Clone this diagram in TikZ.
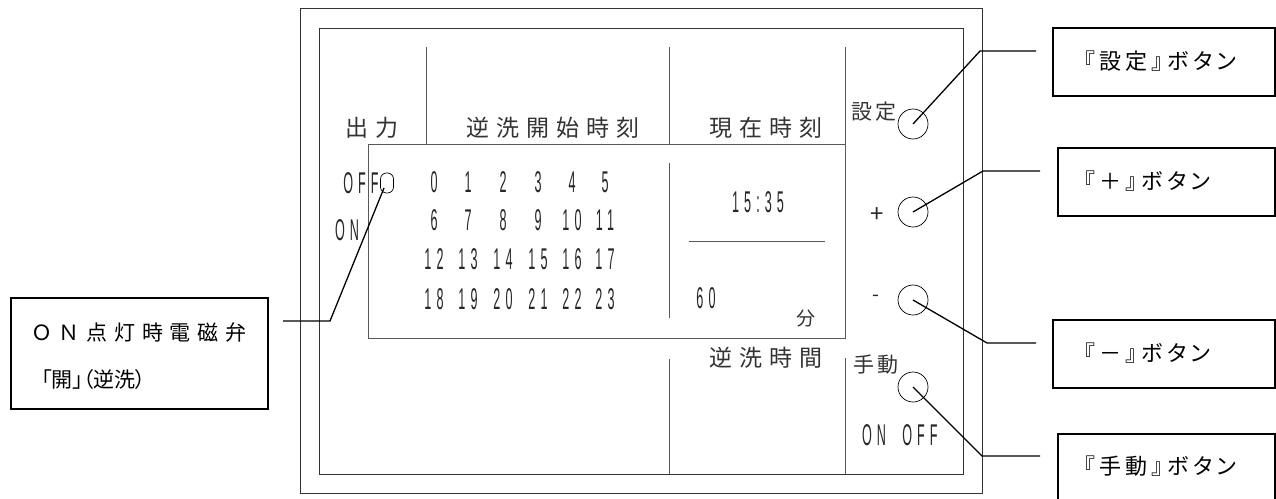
\documentclass[tikz,border=0pt]{standalone}
\usepackage{fontspec}
\usepackage{graphicx}
\newfontfamily\jp{Noto Sans CJK JP}
\newfontfamily\jpw[LetterSpace=30]{Noto Sans CJK JP}
\newfontfamily\jpb[LetterSpace=12]{Noto Sans CJK JP}
\newfontfamily\jpc[RawFeature=+palt,LetterSpace=20]{Noto Sans CJK JP}
\newfontfamily\jpl[LetterSpace=32]{Noto Sans CJK JP}
\newfontfamily\jpp[RawFeature=+palt]{Noto Sans CJK JP}
\newfontfamily\digf[LetterSpace=40]{Liberation Sans}
\newcommand{\nd}[1]{\scalebox{0.42}[1]{\fontsize{30}{30}\digf #1}}
\begin{document}
\begin{tikzpicture}[x=1pt,y=-1pt,
  frame/.style={draw=black!80, line width=0.9pt},
  divline/.style={draw=black!65, line width=0.9pt},
  lbl/.style={inner sep=0, text=black!80, font=\fontsize{23}{23}\jpw},
  lbls/.style={inner sep=0, text=black!80, font=\fontsize{21}{21}\jpb},
  num/.style={inner sep=0, text=black!85},
  btn/.style={draw, circle, minimum size=30pt, inner sep=0, line width=0.7pt},
  callout/.style={draw, line width=1.6pt, inner sep=0, anchor=north west},
  ctext/.style={inner sep=0, anchor=west, font=\fontsize{22}{22}\jpc},
  lead/.style={line width=1.3pt}]
\useasboundingbox (0,0) rectangle (1276,498);
% panel frames
\draw[frame] (300,8) rectangle (982,493);
\draw[frame] (319,28) rectangle (963,474);
% dividers
\draw[divline] (426,47) -- (426,144);
\draw[divline] (669,47) -- (669,144);
\draw[divline] (669,163) -- (669,318);
\draw[divline] (669,359) -- (669,474);
\draw[divline] (845,47) -- (845,338);
\draw[divline] (845,358) -- (845,474);
\draw[divline] (368,144) rectangle (845,338);
\draw[divline] (689,241) -- (825,241);
% headings
\node[lbl] (hout) at (372,128) {出力};
\node[lbl] (hstart) at (553,128) {逆洗開始時刻};
\node[lbl] (hnow) at (766,128) {現在時刻};
\node[lbl] (hdur) at (766,358) {逆洗時間};
\node[lbls] (hset) at (874,112) {設定};
\node[lbls] (hman) at (876,365) {手動};
% output switch
\node[num] (toff) at (361,183) {\nd{OFF}};
\node[num] (ton) at (347,230) {\nd{ON}};
\node[draw, rounded corners=6pt, minimum width=13pt, minimum height=20pt, inner sep=0, line width=0.7pt] (boff) at (387,183) {};
% hour grid
\foreach \r/\y in {0/182,1/220,2/259,3/299}{
  \foreach \c/\x in {0/434,1/468,2/503,3/538,4/572,5/605}{
    \pgfmathtruncatemacro\n{\r*6+\c}
    \node[num] (h\n) at (\x,\y) {\nd{\n}};
  }
}
% clock
\node[num] (clk) at (758,202) {\nd{15:35}};
\node[num] (dur) at (706,298) {\nd{60}};
\node[inner sep=0, text=black!80, font=\fontsize{19}{19}\jp] (umin) at (806,318) {分};
% buttons
\node[num, font=\fontsize{24}{24}\jp] (tplus) at (877,215) {+};
\node[num, font=\fontsize{20}{20}\jp] (tminus) at (876,298) {-};
\node[num] (tman on) at (874,435) {\nd{ON}};
\node[num] (tman off) at (920,435) {\nd{OFF}};
\node[btn] (bset) at (913,124) {};
\node[btn] (bplus) at (913,212) {};
\node[btn] (bminus) at (913,300) {};
\node[btn] (bman) at (913,387) {};
% callout boxes
\node[callout, minimum width=222pt, minimum height=68pt] (cset) at (1052,27) {};
\node[ctext] (cset t) at (1084,61) {『設定』ボタン};
\node[callout, minimum width=217pt, minimum height=68pt] (cplus) at (1057,147) {};
\node[ctext] (cplus t) at (1084,181) {『＋』ボタン};
\node[callout, minimum width=222pt, minimum height=68pt] (cminus) at (1052,319) {};
\node[ctext] (cminus t) at (1084,353) {『－』ボタン};
\node[callout, minimum width=217pt, minimum height=80pt] (cman) at (1057,433) {};
\node[ctext] (cman t) at (1084,466) {『手動』ボタン};
\node[callout, minimum width=257pt, minimum height=111pt] (cout) at (10,297) {};
\node[inner sep=0, anchor=west, font=\fontsize{21}{21}\jpl] (cout t1) at (31,332) {ＯＮ点灯時電磁弁};
\node[inner sep=0, anchor=west, font=\fontsize{21}{21}\jpp] (cout t2) at (41,380) {「開」（逆洗）};
% leaders
\coordinate (kset) at (980,51);   \coordinate (eset) at (1036,51);
\coordinate (kplus) at (983,171); \coordinate (eplus) at (1040,171);
\coordinate (kminus) at (987,343);\coordinate (eminus) at (1036,343);
\coordinate (kman) at (982,456);  \coordinate (eman) at (1040,456);
\coordinate (kout) at (330,321);  \coordinate (eout) at (283,321);
\draw[lead] (bset.center) -- (kset) -- (eset);
\draw[lead] (bplus.center) -- (kplus) -- (eplus);
\draw[lead] (bminus.center) -- (kminus) -- (eminus);
\draw[lead] (bman.center) -- (kman) -- (eman);
\draw[lead] ([shift={(-3,5)}]boff.center) -- (kout) -- (eout);
\end{tikzpicture}
\end{document}
